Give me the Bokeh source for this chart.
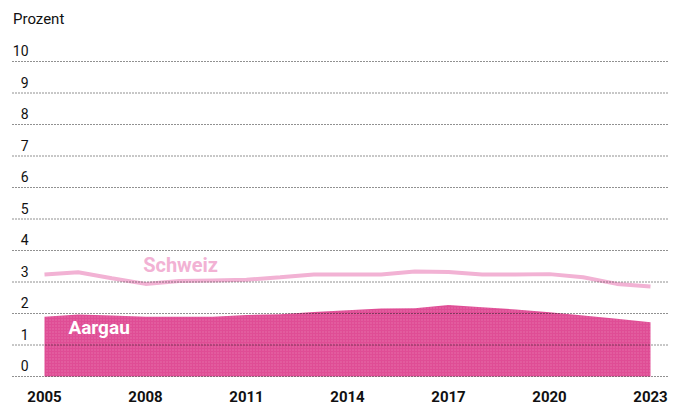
from bokeh.plotting import figure
from bokeh.models import Range1d
from bokeh.core.properties import value
from bokeh.embed import file_html
from bokeh.resources import INLINE

years = list(range(2005, 2024))
schweiz = [3.24, 3.31, 3.12, 2.94, 3.03, 3.05, 3.07, 3.15, 3.24, 3.24,
           3.24, 3.33, 3.32, 3.24, 3.24, 3.25, 3.15, 2.94, 2.86]
aargau = [1.90, 1.97, 1.94, 1.90, 1.90, 1.90, 1.95, 1.98, 2.05, 2.10,
          2.16, 2.17, 2.27, 2.20, 2.13, 2.04, 1.94, 1.83, 1.72]
y_ticks = list(range(0, 11))
x_ticks = [2005, 2008, 2011, 2014, 2017, 2020, 2023]
unit_label = "Prozent"

W, H = 684, 406
PXY = 606 / 18.0   # px per year
PYV = 31.5         # px per percent
x0 = 2005 - 44 / PXY
x1 = 2023 + (W - 650) / PXY
y0 = -(H - 376) / PYV
y1 = 10 + 61 / PYV
SH = -6  # baseline correction

FONT = value("Roboto")

p = figure(width=W, height=H, output_backend="svg", toolbar_location=None,
           x_range=Range1d(x0, x1), y_range=Range1d(y0, y1),
           min_border=0, min_border_left=0, min_border_right=0,
           min_border_top=0, min_border_bottom=0)
p.axis.visible = False
p.grid.visible = False
p.outline_line_color = None
p.background_fill_color = "white"
p.border_fill_color = "white"

# Aargau area
p.varea(x=years, y1=[0] * len(years), y2=aargau, fill_color="#DF4D95",
        hatch_pattern=".", hatch_color="white", hatch_alpha=0.2, hatch_scale=3)

# Schweiz line
p.line(years, schweiz, line_color="#F2B2D4", line_width=4, line_alpha=1)

# gridlines
gx0 = x0 + 12 / PXY
gx1 = x0 + 668 / PXY
p.segment(x0=[gx0] * len(y_ticks), x1=[gx1] * len(y_ticks), y0=y_ticks, y1=y_ticks,
          line_color="#222222", line_width=1, line_dash="1 2")

# y tick labels
p.text(x=[x0] * len(y_ticks), y=y_ticks, text=[str(v) for v in y_ticks],
       x_offset=28, y_offset=-5 + SH, text_align="right", text_baseline="alphabetic",
       text_font=FONT, text_font_size="14px", text_color="#111111")

# x tick labels
p.text(x=x_ticks, y=[0] * len(x_ticks), text=[str(v) for v in x_ticks],
       y_offset=26 + SH, text_align="center", text_baseline="alphabetic",
       text_font=FONT, text_font_size="15px", text_font_style="bold",
       text_color="#111111")

# unit label
p.text(x=[x0], y=[10], text=[unit_label], x_offset=12.5, y_offset=-36.5 + SH,
       text_align="left", text_baseline="alphabetic",
       text_font=FONT, text_font_size="15px", text_color="#111111")

# series labels
p.text(x=[2007.93], y=[3.33], text=["Schweiz"], y_offset=SH - 1, text_align="left",
       text_baseline="alphabetic", text_font=FONT, text_font_size="20px",
       text_font_style="bold", text_color="#F2B2D4")
p.text(x=[2005.71], y=[1.37], text=["Aargau"], y_offset=SH, text_align="left",
       text_baseline="alphabetic", text_font=FONT, text_font_size="19px",
       text_font_style="bold", text_color="white")

open("out.html", "w").write(file_html(p, INLINE))
